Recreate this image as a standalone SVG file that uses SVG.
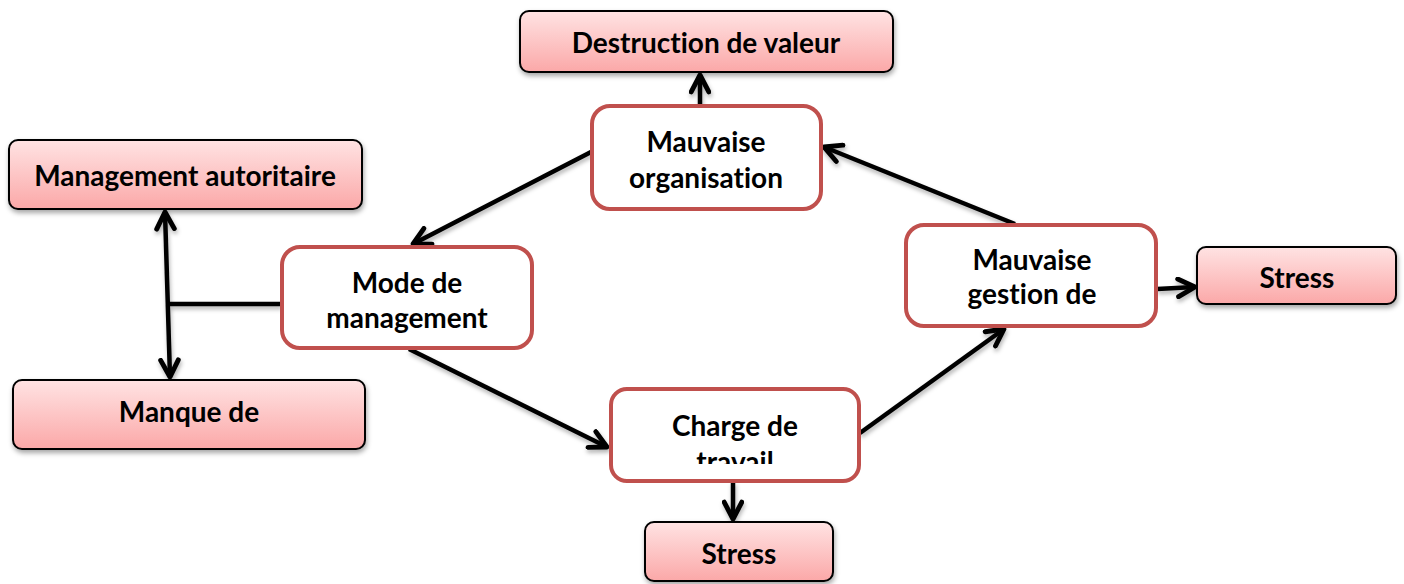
<svg xmlns="http://www.w3.org/2000/svg" width="1404" height="584" viewBox="0 0 1404 584">
<style>
.pink{fill:url(#pg);stroke:#000;stroke-width:2;filter:url(#sh)}
.red{fill:#fff;stroke:#c0504d;stroke-width:4}
text{font-family:Lato,"Open Sans","Liberation Sans",sans-serif;font-weight:bold;font-size:28px;fill:#000;text-anchor:middle;font-variant-ligatures:none}
.c{stroke:#000;stroke-width:4.5;fill:none}
.a{marker-end:url(#ar)}
</style>
<defs>
<linearGradient id="pg" x1="0" y1="0" x2="0" y2="1">
<stop offset="0" stop-color="#ffe3e3"/>
<stop offset="1" stop-color="#fba8a8"/>
</linearGradient>
<filter id="sh" x="-10%" y="-20%" width="120%" height="150%">
<feDropShadow dx="1" dy="3" stdDeviation="2.5" flood-color="#000" flood-opacity="0.35"/>
</filter>
<filter id="lsh" x="-20%" y="-20%" width="140%" height="140%">
<feDropShadow dx="1" dy="3" stdDeviation="2" flood-color="#000" flood-opacity="0.3"/>
</filter>
<marker id="ar" viewBox="0 0 12 12" refX="10.5" refY="6" markerWidth="5" markerHeight="5" orient="auto-start-reverse" markerUnits="strokeWidth">
<path d="M1.5,1.3 L10.5,6 L1.5,10.7" fill="none" stroke="#000" stroke-width="2.6" stroke-linecap="round" stroke-linejoin="round"/>
</marker>
<clipPath id="cl"><rect x="610" y="388" width="250" height="76"/></clipPath>
</defs>
<g id="connectors" filter="url(#lsh)">
<line class="c a" x1="700" y1="105" x2="700" y2="75"/>
<line class="c a" x1="591" y1="152" x2="413" y2="244"/>
<line class="c a" x1="1015" y1="224" x2="824" y2="147"/>
<line class="c a" x1="409" y1="349" x2="607" y2="447"/>
<line class="c a" x1="860" y1="433" x2="1004" y2="329"/>
<line class="c a" x1="733" y1="482" x2="733" y2="519"/>
<line class="c a" x1="1157" y1="289" x2="1195" y2="287"/>
<line class="c" x1="281" y1="304" x2="168" y2="304"/>
<line class="c a" x1="165" y1="212" x2="170" y2="377" style="marker-start:url(#ar)"/>
</g>
<g id="destruction">
<rect class="pink" x="520" y="11" width="373" height="61" rx="9"/>
<text x="706" y="53">Destruction de valeur</text>
</g>
<g id="mauvaise-organisation">
<rect class="red" x="592" y="106" width="229" height="103" rx="18"/>
<text x="706" y="152">Mauvaise</text>
<text x="706" y="188">organisation</text>
</g>
<g id="management-autoritaire">
<rect class="pink" x="9" y="140" width="353" height="69" rx="9"/>
<text x="185" y="186">Management autoritaire</text>
</g>
<g id="mode-management">
<rect class="red" x="282" y="247" width="250" height="101" rx="18"/>
<text x="407" y="293">Mode de</text>
<text x="407" y="328">management</text>
</g>
<g id="manque">
<rect class="pink" x="13" y="380" width="352" height="69" rx="9"/>
<text x="189" y="422">Manque de</text>
</g>
<g id="charge-travail">
<rect class="red" x="611" y="389" width="248" height="92" rx="16"/>
<text x="735" y="436">Charge de</text>
<text x="735" y="472" clip-path="url(#cl)">travail</text>
</g>
<g id="stress-bas">
<rect class="pink" x="645" y="522" width="188" height="59" rx="9"/>
<text x="739" y="564">Stress</text>
</g>
<g id="mauvaise-gestion">
<rect class="red" x="906" y="225" width="250" height="101" rx="18"/>
<text x="1032" y="270">Mauvaise</text>
<text x="1032" y="304">gestion de</text>
</g>
<g id="stress-droite">
<rect class="pink" x="1197" y="247" width="199" height="57" rx="9"/>
<text x="1297" y="288">Stress</text>
</g>
</svg>
